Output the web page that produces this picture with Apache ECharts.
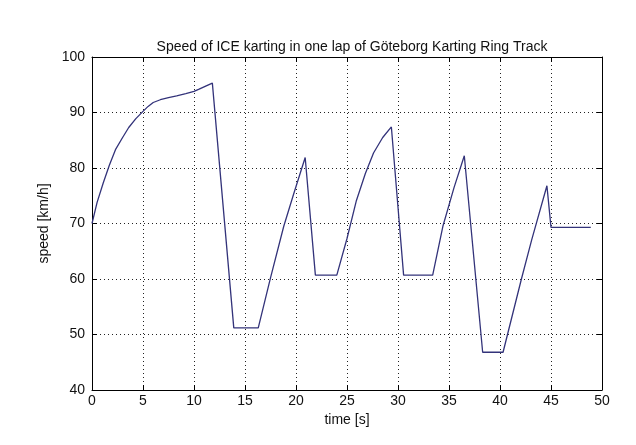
<!DOCTYPE html>
<html>
<head>
<meta charset="utf-8">
<script src="https://cdn.jsdelivr.net/npm/echarts@6/dist/echarts.min.js"></script>
<style>
  html, body { margin: 0; padding: 0; background: #fff; }
  #main { width: 636px; height: 445px; }
</style>
</head>
<body>
<div id="main"></div>
<script>
// time [s] and speed [km/h]
var time = [0, 0.5, 1.1, 1.7, 2.3, 3, 3.6, 4.3, 5, 5.5, 6, 6.7, 7.5, 8.3, 9.2, 10, 10.5, 11.2, 11.8,
    13.9, 16.3, 17.5, 18.8, 19.8, 20.9, 21.9, 24.0, 25.0, 25.9, 26.8, 27.6, 28.5, 29.35,
    30.55, 33.4, 34.4, 35.5, 36.5, 38.3, 40.3, 42.1, 43.1, 44.6, 45.0, 48.9];
var speed = [70, 73.8, 77.3, 80.5, 83.3, 85.5, 87.3, 88.9, 90.2, 91.1, 91.8, 92.3, 92.7, 93.0, 93.4, 93.8, 94.2, 94.8, 95.3,
    51.2, 51.2, 60.2, 69.5, 75.5, 81.9, 60.7, 60.7, 67.3, 74, 79, 82.7, 85.5, 87.4,
    60.7, 60.7, 69.5, 76.5, 82.2, 46.8, 46.8, 60, 67, 76.8, 69.3, 69.3];
var xTicks = [0, 5, 10, 15, 20, 25, 30, 35, 40, 45, 50];
var yTicks = [40, 50, 60, 70, 80, 90, 100];

var pts = [];
for (var i = 0; i < time.length; i++) {
    pts.push([time[i], speed[i]]);
}

var font = "Liberation Sans, Arial, sans-serif";
var chart = echarts.init(document.getElementById("main"));

function axisBase(show) {
    return {
        type: "value",
        interval: 5,
        axisLine: { show: true, onZero: false, lineStyle: { color: "#000", width: 1 } },
        axisTick: { show: true, inside: true, length: 5, lineStyle: { color: "#000" } },
        axisLabel: { show: show, color: "#111", fontFamily: font, fontSize: 14, margin: 6 },
        splitLine: { show: false }
    };
}

var gridLine = { show: true, lineStyle: { color: "#222", type: [1, 3], width: 1 } };

var xBottom = axisBase(true);
xBottom.min = xTicks[0];
xBottom.max = xTicks[xTicks.length - 1];
xBottom.position = "bottom";
xBottom.axisLabel.margin = 4;
xBottom.name = "time [s]";
xBottom.nameLocation = "middle";
xBottom.nameGap = 21;
xBottom.nameTextStyle = { color: "#111", fontFamily: font, fontSize: 14 };
xBottom.splitLine = gridLine;

var xTop = axisBase(false);
xTop.min = xTicks[0];
xTop.max = xTicks[xTicks.length - 1];
xTop.position = "top";

var yLeft = axisBase(true);
yLeft.interval = 10;
yLeft.min = yTicks[0];
yLeft.max = yTicks[yTicks.length - 1];
yLeft.position = "left";
yLeft.axisLabel.margin = 7;
yLeft.name = "speed [km/h]";
yLeft.nameLocation = "middle";
yLeft.nameGap = 37;
yLeft.nameTextStyle = { color: "#111", fontFamily: font, fontSize: 14 };
yLeft.splitLine = gridLine;

var yRight = axisBase(false);
yRight.interval = 10;
yRight.min = yTicks[0];
yRight.max = yTicks[yTicks.length - 1];
yRight.position = "right";

option = {
    backgroundColor: "#fff",
    animation: false,
    title: {
        text: "Speed of ICE karting in one lap of Göteborg Karting Ring Track",
        left: 347,
        textAlign: "center",
        top: 35,
        textStyle: { color: "#111", fontFamily: font, fontSize: 14, fontWeight: "normal" }
    },
    grid: { left: 92, right: 34, top: 57, bottom: 55 },
    xAxis: [xBottom, xTop],
    yAxis: [yLeft, yRight],
    series: [{
        name: "speed",
        type: "line",
        data: pts,
        showSymbol: false,
        lineStyle: { color: "#33337a", width: 1.3 },
        itemStyle: { color: "#33337a" }
    }]
};
chart.setOption(option);
window.addEventListener("resize", function () {
    chart.resize()
})
</script>
</body>
</html>
